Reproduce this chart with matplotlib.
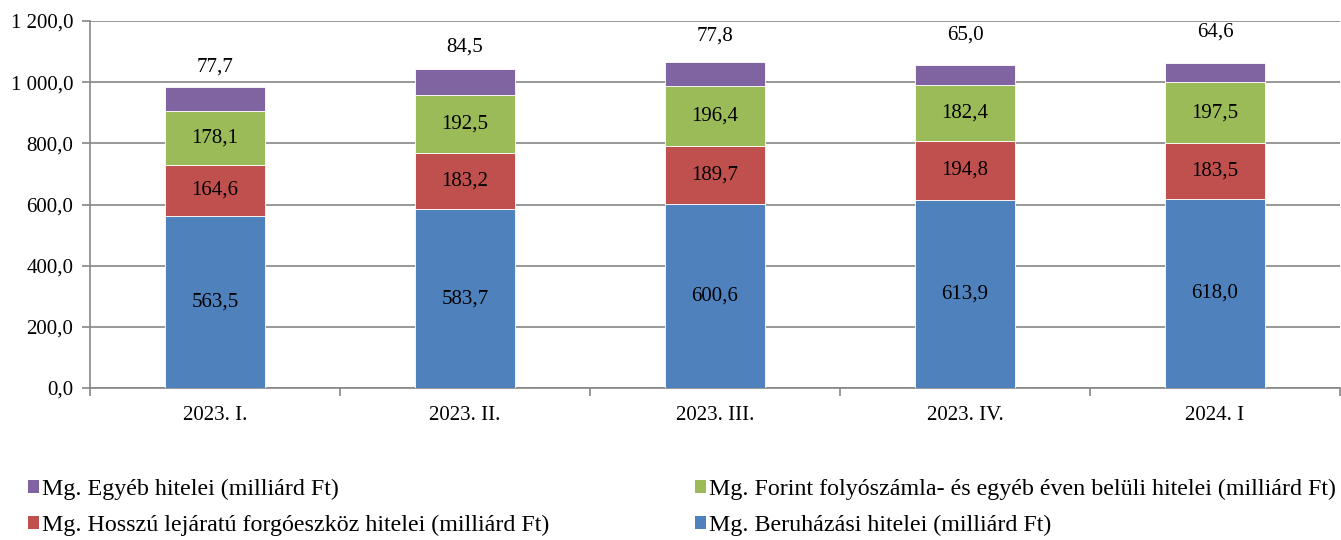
import matplotlib
matplotlib.use("Agg")
import matplotlib.pyplot as plt
from matplotlib.patches import Patch
import numpy as np

categories = ["2023. I.", "2023. II.", "2023. III.", "2023. IV.", "2024. I"]
beruhazasi = [563.5, 583.7, 600.6, 613.9, 618.0]
hosszu = [164.6, 183.2, 189.7, 194.8, 183.5]
forint = [178.1, 192.5, 196.4, 182.4, 197.5]
egyeb = [77.7, 84.5, 77.8, 65.0, 64.6]

series_names = [
    "Mg. Beruházási hitelei (milliárd Ft)",
    "Mg. Hosszú lejáratú forgóeszköz hitelei (milliárd Ft)",
    "Mg. Forint folyószámla- és egyéb éven belüli hitelei (milliárd Ft)",
    "Mg. Egyéb hitelei (milliárd Ft)",
]
colors = ["#4F81BD", "#C0504D", "#9BBB59", "#8064A2"]
top_label_offsets_px = [20, 22, 26, 30, 31]

plt.rcParams['font.family'] = ['Liberation Serif', 'DejaVu Serif']
FS = 15
LFS = 17.3

fig = plt.figure(figsize=(13.41, 5.40), dpi=100)
ax = fig.add_axes([90/1341, (540-388)/540, (1340-90)/1341, (388-21)/540])

x = np.arange(len(categories))
data = [beruhazasi, hosszu, forint, egyeb]
bottom = np.zeros(len(categories))
for vals, col in zip(data, colors):
    ax.bar(x, vals, width=0.4, bottom=bottom, color=col, edgecolor='white',
           linewidth=0.6, zorder=3)
    bottom = bottom + np.array(vals)

bottom = np.zeros(len(categories))
for vals in data[:3]:
    for i, v in enumerate(vals):
        ax.text(x[i], bottom[i] + v / 2, f"{v:.1f}".replace('.', ','),
                ha='center', va='center', fontsize=FS, zorder=4)
    bottom = bottom + np.array(vals)
for i, v in enumerate(egyeb):
    ax.annotate(f"{v:.1f}".replace('.', ','), (x[i], bottom[i] + v),
                xytext=(0, top_label_offsets_px[i] * 0.72), textcoords='offset points',
                ha='center', va='center', fontsize=FS, zorder=4)

ax.set_xlim(-0.5, len(categories) - 0.5)
ax.set_ylim(0, 1200)
yt = np.arange(0, 1201, 200)
ax.set_yticks(yt)
def fmt(v):
    return f"{v:,.1f}".replace(',', ' ').replace('.', ',')
ax.set_yticklabels([fmt(v) for v in yt], fontsize=FS)
ax.yaxis.grid(True, color='#868686', linewidth=1.2, zorder=0)
ax.set_axisbelow(True)

ax.set_xticks(x)
ax.set_xticklabels(categories, fontsize=FS)
ax.tick_params(axis='x', which='major', length=0, pad=13)
ax.set_xticks(np.arange(-0.5, len(categories) + 0.5, 1), minor=True)
ax.tick_params(axis='x', which='minor', length=6, color='#868686', width=1.2)
ax.tick_params(axis='y', length=6, color='#868686', width=1.2, pad=6)

for s in ['top', 'right']:
    ax.spines[s].set_visible(False)
for s in ['left', 'bottom']:
    ax.spines[s].set_color('#868686')
    ax.spines[s].set_linewidth(1.2)

def handle(c):
    return Patch(facecolor=c, edgecolor='none')

leg_kw = dict(frameon=False, fontsize=LFS, handlelength=0.45, handleheight=0.45,
              handletextpad=0.12, labelspacing=0.6, borderpad=0, borderaxespad=0,
              loc='upper left')
fig.legend([handle(colors[3]), handle(colors[1])], [series_names[3], series_names[1]],
           bbox_to_anchor=(28/1341, 1 - 479/540), **leg_kw)
fig.legend([handle(colors[2]), handle(colors[0])], [series_names[2], series_names[0]],
           bbox_to_anchor=(695/1341, 1 - 479/540), **leg_kw)

fig.savefig("out.png", dpi=100)
